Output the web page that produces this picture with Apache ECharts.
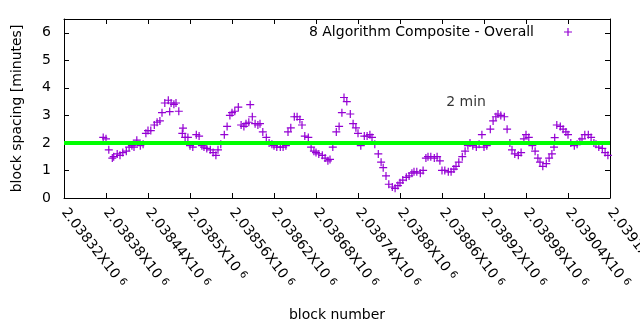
<!DOCTYPE html>
<html>
<head>
<meta charset="utf-8">
<script src="https://cdn.jsdelivr.net/npm/echarts@6/dist/echarts.min.js"></script>
<style>
html, body { margin: 0; padding: 0; background: #fff; }
#chart { width: 640px; height: 330px; }
</style>
</head>
<body>
<div id="chart"></div>
<script>
// Block heights and the averaged spacing (minutes) between blocks
const blocks = [
  2038376, 2038380, 2038384, 2038389, 2038391, 2038396, 2038400, 2038404, 2038409, 2038413,
  2038417, 2038420, 2038424, 2038429, 2038433, 2038437, 2038440, 2038444, 2038449, 2038453,
  2038457, 2038460, 2038464, 2038469, 2038471, 2038473, 2038477, 2038480, 2038484, 2038489,
  2038490, 2038493, 2038497, 2038500, 2038504, 2038509, 2038513, 2038517, 2038520, 2038524,
  2038529, 2038533, 2038537, 2038540, 2038544, 2038549, 2038553, 2038557, 2038560, 2038564,
  2038569, 2038573, 2038577, 2038580, 2038584, 2038586, 2038589, 2038593, 2038597, 2038600,
  2038604, 2038609, 2038613, 2038617, 2038620, 2038624, 2038629, 2038633, 2038637, 2038640,
  2038644, 2038649, 2038653, 2038657, 2038660, 2038664, 2038669, 2038673, 2038677, 2038680,
  2038684, 2038689, 2038693, 2038697, 2038700, 2038704, 2038709, 2038713, 2038717, 2038720,
  2038724, 2038729, 2038733, 2038737, 2038740, 2038744, 2038749, 2038753, 2038757, 2038760,
  2038764, 2038769, 2038773, 2038776, 2038780, 2038784, 2038789, 2038793, 2038797, 2038800,
  2038804, 2038809, 2038813, 2038817, 2038820, 2038824, 2038829, 2038833, 2038837, 2038840,
  2038844, 2038849, 2038853, 2038857, 2038860, 2038864, 2038869, 2038873, 2038877, 2038880,
  2038884, 2038889, 2038893, 2038897, 2038900, 2038904, 2038909, 2038913, 2038917, 2038920,
  2038924, 2038929, 2038933, 2038937, 2038940, 2038944, 2038949, 2038953, 2038957, 2038960,
  2038964, 2038969, 2038973, 2038977, 2038980, 2038984, 2038989, 2038993, 2038997, 2039000,
  2039004, 2039009, 2039013, 2039017, 2039020, 2039021, 2039024, 2039029, 2039033, 2039037,
  2039040, 2039044, 2039049, 2039053, 2039057, 2039060, 2039064, 2039069, 2039073, 2039077,
  2039080, 2039084, 2039089, 2039093, 2039097
];
const spacing = [
  2.2, 2.15, 1.75, 1.45, 1.5, 1.6, 1.55, 1.65, 1.7, 1.85,
  1.9, 1.85, 2.1, 1.9, 1.95, 2.35, 2.45, 2.45, 2.65, 2.75,
  2.8, 3.1, 3.45, 3.55, 3.14, 3.45, 3.4, 3.45, 3.15, 2.35,
  2.54, 2.2, 2.2, 1.9, 1.85, 2.3, 2.25, 1.9, 1.85, 1.8,
  1.75, 1.65, 1.55, 1.75, 1.95, 2.3, 2.6, 3.0, 3.1, 3.15,
  3.3, 2.65, 2.6, 2.7, 2.75, 3.39, 2.95, 2.7, 2.65, 2.7,
  2.4, 2.2, 2.0, 1.95, 1.9, 1.85, 1.85, 1.85, 1.9, 2.4,
  2.55, 2.95, 2.95, 2.85, 2.65, 2.25, 2.2, 1.85, 1.7, 1.65,
  1.6, 1.55, 1.45, 1.35, 1.4, 1.85, 2.4, 2.6, 3.1, 3.65,
  3.5, 3.05, 2.7, 2.55, 2.35, 1.9, 2.25, 2.25, 2.3, 2.2,
  1.95, 1.6, 1.3, 1.1, 0.8, 0.5, 0.4, 0.35, 0.45, 0.55,
  0.65, 0.75, 0.8, 0.9, 0.95, 0.95, 0.9, 1.0, 1.45, 1.5,
  1.5, 1.45, 1.5, 1.35, 1.0, 1.0, 0.95, 0.95, 1.05, 1.15,
  1.3, 1.5, 1.7, 1.9, 2.0, 1.9, 1.85, 1.95, 2.3, 1.85,
  1.9, 2.5, 2.8, 2.95, 3.05, 3.0, 2.95, 2.5, 2.0, 1.75,
  1.6, 1.55, 1.65, 2.15, 2.3, 2.2, 1.9, 1.7, 1.45, 1.3,
  1.15, 1.25, 1.45, 1.6, 1.85, 2.19, 2.65, 2.6, 2.5, 2.4,
  2.3, 2.0, 1.9, 1.95, 2.05, 2.15, 2.3, 2.3, 2.2, 2.0,
  1.95, 1.85, 1.8, 1.65, 1.55
];

const seriesName = '8 Algorithm Composite - Overall';

// Target spacing line and its caption
const targetMinutes = 2;
const targetCaption = '2 min';
const targetCaptionAt = [2038866, 3.48];

// Axis ranges
const xMin = 2038320, xMax = 2039100, xStep = 60;
const yMin = 0, yMax = 6.5, yStep = 1;

const FONT = 'DejaVu Sans';
const PLUS = 'path://M4.25,0H5.75V4.25H10V5.75H5.75V10H4.25V5.75H0V4.25H4.25Z';

// "2.03832X10 6" style labels with a raised exponent
function sciLabel(v) {
  const mant = parseFloat((v / 1e6).toPrecision(6)).toString();
  return '{m|' + mant + 'X10 }{e|6}';
}

const axisLineStyle = { show: true, onZero: false, lineStyle: { color: '#000', width: 1 } };
const tickStyle = { show: true, inside: true, length: 5, lineStyle: { color: '#000', width: 1 } };

const chart = echarts.init(document.getElementById('chart'), null, { renderer: 'canvas' });
chart.setOption({
  animation: false,
  backgroundColor: '#fff',
  textStyle: { fontFamily: FONT, color: '#000' },
  grid: { left: 64, right: 30, top: 19, bottom: 132, containLabel: false, outerBoundsMode: 'none' },
  legend: {
    data: [{ name: seriesName, icon: PLUS }],
    align: 'right',
    right: 68,
    top: 25,
    padding: 0,
    itemWidth: 58,
    itemHeight: 8,
    textStyle: { fontFamily: FONT, fontSize: 14, color: '#000' }
  },
  xAxis: [
    {
      type: 'value', position: 'bottom', min: xMin, max: xMax, interval: xStep,
      axisLine: axisLineStyle, axisTick: tickStyle, splitLine: { show: false },
      axisLabel: {
        rotate: -52, margin: 12, color: '#000', fontFamily: FONT, fontSize: 14,
        formatter: sciLabel,
        rich: {
          m: { fontFamily: FONT, fontSize: 14, color: '#000' },
          e: { fontFamily: FONT, fontSize: 10, color: '#000', verticalAlign: 'top' }
        }
      },
      name: 'block number', nameLocation: 'middle', nameGap: 110, nameMoveOverlap: false,
      nameTextStyle: { fontFamily: FONT, fontSize: 14, color: '#000' }
    },
    {
      type: 'value', position: 'top', min: xMin, max: xMax, interval: xStep,
      axisLine: axisLineStyle, axisTick: tickStyle, splitLine: { show: false },
      axisLabel: { show: false }
    }
  ],
  yAxis: [
    {
      type: 'value', position: 'left', min: yMin, max: yMax, interval: yStep,
      axisLine: axisLineStyle, axisTick: tickStyle, splitLine: { show: false },
      axisLabel: {
        margin: 13, color: '#000', fontFamily: FONT, fontSize: 14,
        formatter: v => (Number.isInteger(v) ? String(v) : '')
      },
      name: 'block spacing [minutes]', nameLocation: 'middle', nameGap: 40, nameMoveOverlap: false,
      nameTextStyle: { fontFamily: FONT, fontSize: 14, color: '#000' }
    },
    {
      type: 'value', position: 'right', min: yMin, max: yMax, interval: yStep,
      axisLine: axisLineStyle, axisTick: tickStyle, splitLine: { show: false },
      axisLabel: { show: false }
    }
  ],
  series: [
    {
      name: seriesName,
      type: 'scatter',
      xAxisIndex: 0, yAxisIndex: 0,
      symbol: PLUS,
      symbolSize: 8,
      itemStyle: { color: '#9400d3', opacity: 1 },
      data: blocks.map((b, i) => [b, spacing[i]]),
      z: 2
    },
    {
      name: 'target',
      type: 'line',
      xAxisIndex: 0, yAxisIndex: 0,
      data: [[xMin, targetMinutes], [xMax, targetMinutes]],
      symbol: 'none',
      lineStyle: { color: '#00ff00', width: 4 },
      silent: true,
      z: 3
    },
    {
      name: 'caption',
      type: 'scatter',
      xAxisIndex: 0, yAxisIndex: 0,
      data: [targetCaptionAt],
      symbolSize: 0,
      silent: true,
      label: {
        show: true, position: 'right', distance: 0,
        formatter: targetCaption,
        fontFamily: FONT, fontSize: 14, color: '#000'
      },
      z: 4
    }
  ]
});
</script>
</body>
</html>
